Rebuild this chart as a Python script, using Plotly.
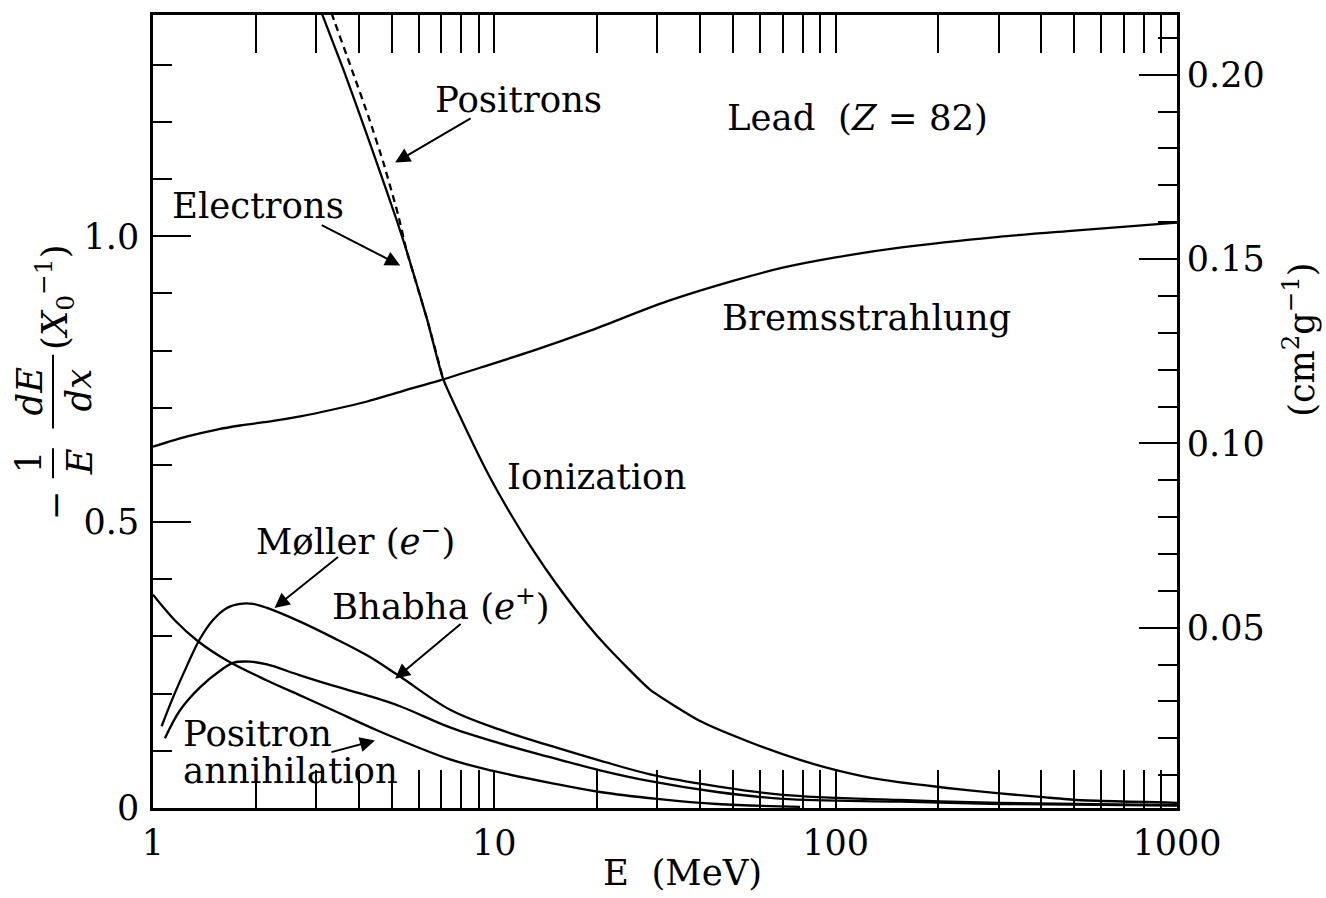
import numpy as np
import plotly.graph_objects as go

# Fractional energy loss per radiation length in lead, -(1/E) dE/dx in units of 1/X0
E_brems = [1.0, 1.26, 1.54, 1.80, 2.25, 2.70, 3.37, 4.24, 5.3, 6.93, 9.3, 13.0,
           19.1, 32.0, 50.0, 70.0, 100.0, 154.0, 300.0, 500.0, 1000.0]
brems = [0.632, 0.650, 0.662, 0.669, 0.677, 0.685, 0.697, 0.711, 0.728, 0.748, 0.772,
         0.800, 0.835, 0.886, 0.922, 0.945, 0.963, 0.980, 0.999, 1.010, 1.024]

E_ion_e = [3.04, 3.122, 3.611, 4.043, 4.523, 5.176, 5.538, 6.351, 7.074, 8.318, 9.714,
           11.12, 12.99, 15.27, 18.69, 21.39, 28.59, 40.06, 56.13, 78.64, 100.9, 137.7,
           212.1, 297.2, 405.3, 509.6, 1000.0]
ion_e = [1.41, 1.390, 1.292, 1.211, 1.129, 1.028, 0.974, 0.855, 0.751, 0.659, 0.578,
         0.516, 0.451, 0.390, 0.322, 0.282, 0.207, 0.152, 0.115, 0.084, 0.066, 0.049,
         0.035, 0.026, 0.019, 0.014, 0.009]

E_ion_p = [3.245, 3.415, 3.821, 4.274, 4.730, 5.234, 5.538, 6.351, 7.074]
ion_p = [1.41, 1.373, 1.292, 1.210, 1.129, 1.036, 0.974, 0.855, 0.751]

E_moller = [1.060, 1.144, 1.258, 1.373, 1.499, 1.647, 1.799, 1.963, 2.158, 2.697, 3.369,
            4.236, 5.292, 7.418, 10.39, 14.56, 20.40, 28.59, 44.94, 70.14, 154.4, 303.1,
            1000.0]
moller = [0.143, 0.193, 0.249, 0.296, 0.329, 0.350, 0.357, 0.357, 0.350, 0.326, 0.298,
          0.267, 0.230, 0.172, 0.137, 0.109, 0.083, 0.059, 0.038, 0.023, 0.014, 0.009,
          0.005]

E_bhabha = [1.084, 1.200, 1.373, 1.572, 1.716, 1.924, 2.158, 2.697, 3.369, 4.236, 5.292,
            7.418, 10.39, 14.56, 20.40, 28.59, 44.94, 70.14, 154.4, 303.1, 1000.0]
bhabha = [0.122, 0.171, 0.211, 0.240, 0.254, 0.256, 0.251, 0.232, 0.214, 0.197, 0.178,
          0.141, 0.113, 0.089, 0.066, 0.047, 0.028, 0.016, 0.011, 0.007, 0.004]

E_annih = [1.000, 1.160, 1.346, 1.647, 2.158, 2.697, 3.369, 4.532, 7.418, 9.913, 14.56,
           20.40, 29.97, 44.94, 78.64]
annih = [0.373, 0.328, 0.293, 0.258, 0.223, 0.197, 0.171, 0.136, 0.085, 0.065, 0.044,
         0.028, 0.016, 0.007, 0.002]

x_major = [1, 10, 100, 1000]
x_major_text = ["1", "10", "100", "1000"]
y_major = [0, 0.5, 1.0]
y_major_text = ["0", "0.5", "1.0"]
y2_major = [0.05, 0.10, 0.15, 0.20]
y2_major_text = ["0.05", "0.10", "0.15", "0.20"]

W, H = 1326, 898
ML, MR, MT, MB = 153, 149, 12, 90
PW, PH = W - ML - MR, H - MT - MB
FONT = "DejaVu Serif"
LW = 2.3


def at(px, py):
    """Figure pixel -> paper coordinates."""
    return (px - ML) / PW, (H - MB - py) / PH


fig = go.Figure()

for xs, ys, sm in [(E_brems, brems, 0.8), (E_ion_e, ion_e, 0.5), (E_moller, moller, 1.0),
                   (E_bhabha, bhabha, 1.0), (E_annih, annih, 1.0)]:
    fig.add_trace(go.Scatter(x=xs, y=ys, mode="lines",
                             line=dict(color="black", width=LW, shape="spline",
                                       smoothing=sm),
                             showlegend=False, hoverinfo="skip"))
fig.add_trace(go.Scatter(x=E_ion_p, y=ion_p, mode="lines",
                         line=dict(color="black", width=LW, dash="7px,5px",
                                   shape="spline", smoothing=0.5),
                         showlegend=False, hoverinfo="skip"))
# secondary scale in cm^2/g
fig.add_trace(go.Scatter(x=[None], y=[None], yaxis="y2", mode="lines",
                         showlegend=False, hoverinfo="skip"))

minor_x = [m * d for d in (1, 10, 100) for m in range(2, 10)]
minor_y = [round(0.1 * k, 2) for k in range(1, 14) if k not in (5, 10)]
minor_y2 = [round(0.01 * k, 2) for k in range(1, 22) if k % 5 != 0]

tickfont = dict(family=FONT, size=35, color="black")
major = dict(ticks="inside", ticklen=38, tickwidth=2.2, tickcolor="black",
             showgrid=False, zeroline=False, showline=True, linecolor="black",
             linewidth=2.5, tickmode="array", tickfont=tickfont)
minor = dict(ticks="inside", ticklen=19, tickwidth=2.2, tickcolor="black",
             tickmode="array", showgrid=False)

fig.update_layout(
    width=W, height=H,
    margin=dict(l=ML, r=MR, t=MT, b=MB, pad=0),
    paper_bgcolor="white", plot_bgcolor="white",
    font=dict(family=FONT, color="black"),
    xaxis=dict(type="log", range=[0, 3], mirror="allticks",
               tickvals=x_major, ticktext=x_major_text, ticklabelstandoff=2,
               minor=dict(minor, tickvals=minor_x), **major),
    yaxis=dict(range=[0, 1.387],
               tickvals=y_major, ticktext=y_major_text, ticklabelstandoff=4,
               minor=dict(minor, tickvals=minor_y), **major),
    yaxis2=dict(overlaying="y", side="right", range=[0.0011, 0.2162],
                tickvals=y2_major, ticktext=y2_major_text, ticklabelstandoff=0,
                minor=dict(minor, tickvals=minor_y2), **major),
)

LS = 35.5
ann = []


def text(px, py, s, size=LS, angle=0, xanchor="center"):
    x, y = at(px, py)
    ann.append(dict(x=x, y=y, xref="paper", yref="paper", text=s, showarrow=False,
                    textangle=angle, xanchor=xanchor, yanchor="middle",
                    font=dict(family=FONT, size=size, color="black")))


text(518, 97, "Positrons")
text(857, 115, "Lead\u00a0\u00a0(<i>Z</i>\u00a0=\u00a082)")
text(258, 203, "Electrons")
text(866, 316, "Bremsstrahlung")
text(596, 475, "Ionization")
text(355, 538, "Møller (<i>e</i><sup>−</sup>)")
text(441, 603, "Bhabha (<i>e</i><sup>+</sup>)")
text(181, 733, "Positron", xanchor="left")
text(181, 770, "annihilation", xanchor="left")
text(682, 873, "E\u00a0\u00a0(MeV)")

# vertical axis titles
text(55, 504, "−", angle=-90)
text(28, 461, "1", angle=-90)
text(79, 461, "<i>E</i>", angle=-90)
text(30, 390, "<i>dE</i>", angle=-90)
text(79, 389, "<i>dx</i>", angle=-90)
text(55, 296, "(<i>X</i><sub>0</sub><sup>−1</sup>)", angle=-90)
text(1299, 338, "(cm<sup>2</sup>g<sup>−1</sup>)", size=35, angle=-90)

# arrows: (tip energy, tip value, tail offset in px)
arrows = [
    (5.12, 1.129, 77, -45),    # Positrons
    (5.30, 0.949, -80, -41),   # Electrons
    (2.27, 0.350, 65, -52),    # Moller
    (5.12, 0.226, 67, -56),    # Bhabha
    (4.47, 0.118, -45, 12),    # Positron annihilation
]
for e, v, dx, dy in arrows:
    ann.append(dict(x=np.log10(e), y=v, xref="x", yref="y", text="",
                    showarrow=True, arrowhead=2, arrowsize=1.5, arrowwidth=2,
                    arrowcolor="black", ax=dx, ay=dy, standoff=0))

fig.update_layout(annotations=ann)

# fraction bars of the left-hand title
shapes = []
for y0, y1 in [(447, 477), (353, 427)]:
    xa, ya = at(53, y0)
    _, yb = at(53, y1)
    shapes.append(dict(type="line", xref="paper", yref="paper", x0=xa, x1=xa,
                       y0=ya, y1=yb, line=dict(color="black", width=2)))
fig.update_layout(shapes=shapes)

fig.write_html("out.html")
